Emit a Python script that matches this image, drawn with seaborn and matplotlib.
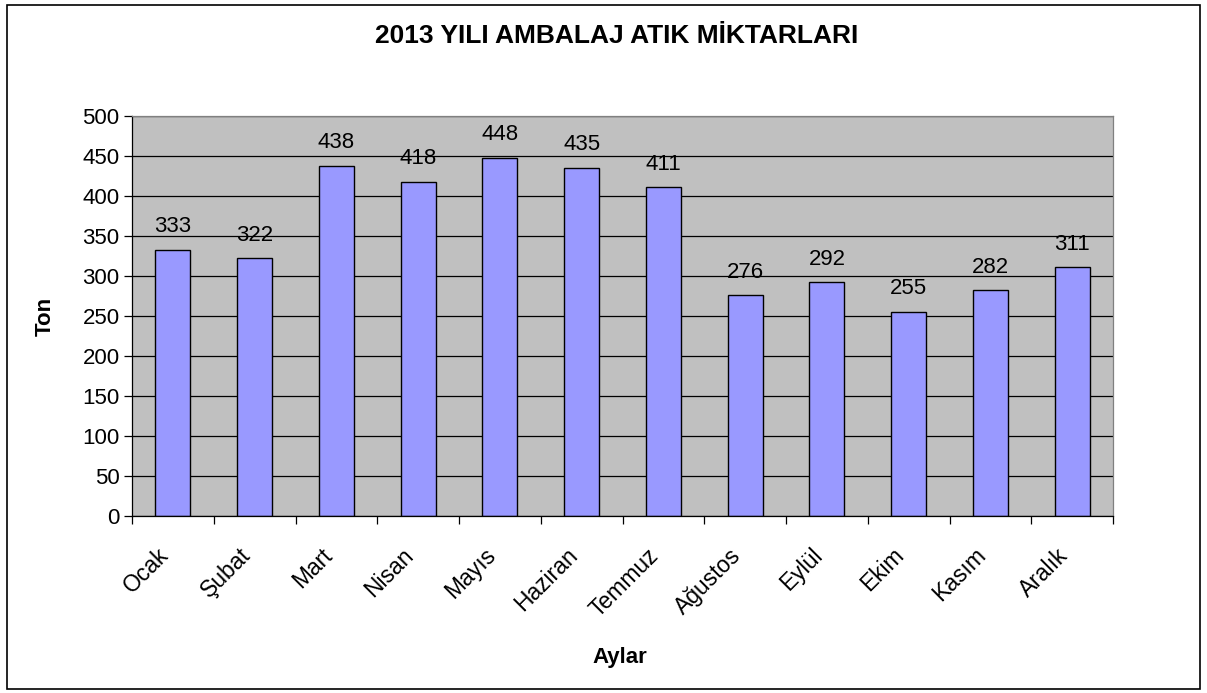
import matplotlib
matplotlib.use("Agg")
import matplotlib.pyplot as plt
import matplotlib.transforms as mtransforms
import seaborn as sns
import pandas as pd
import numpy as np
from matplotlib.patches import Rectangle

months = ["Ocak", "Şubat", "Mart", "Nisan", "Mayıs", "Haziran", "Temmuz",
          "Ağustos", "Eylül", "Ekim", "Kasım", "Aralık"]
values = [333, 322, 438, 418, 448, 435, 411, 276, 292, 255, 282, 311]
yticks = [0, 50, 100, 150, 200, 250, 300, 350, 400, 450, 500]

sns.set_theme(style="white")
plt.rcParams['font.family'] = ['Liberation Sans', 'DejaVu Sans']
plt.rcParams['text.color'] = 'black'
plt.rcParams['axes.labelcolor'] = 'black'
plt.rcParams['xtick.color'] = 'black'
plt.rcParams['ytick.color'] = 'black'

df = pd.DataFrame({"Ay": months, "Ton": values})

fig = plt.figure(figsize=(12.07, 6.93), dpi=100)
fig.patches.append(Rectangle((7/1207, 1-689/693), (1200-7)/1207, (689-5)/693,
                             transform=fig.transFigure, fill=False,
                             edgecolor="black", linewidth=1.2))
ax = fig.add_axes([132/1207, 1-516/693, 981/1207, 400/693])
ax.set_facecolor("#C0C0C0")

sns.barplot(data=df, x="Ay", y="Ton", ax=ax, color="#9999FF",
            width=0.43, edgecolor="black", linewidth=1.0, saturation=1)

ax.set_ylim(0, 500)
ax.set_xlim(-0.5, len(months) - 0.5)
ax.set_yticks(yticks)
ax.set_yticklabels([str(t) for t in yticks], fontsize=16)
ax.yaxis.grid(True, color="black", linewidth=0.9)
ax.set_axisbelow(True)

ax.set_xticks(range(len(months)))
ax.set_xticklabels(months, rotation=45, ha="right", rotation_mode="anchor", fontsize=16.5)
ax.tick_params(axis="x", which="major", length=0, pad=20)
offset = mtransforms.ScaledTranslation(-16/100, 0, fig.dpi_scale_trans)
for lbl in ax.get_xticklabels():
    lbl.set_transform(lbl.get_transform() + offset)
ax.set_xticks(np.arange(-0.5, len(months), 1.0), minor=True)
ax.tick_params(axis="x", which="minor", length=6, width=0.9, color="black", direction="out", bottom=True)
ax.tick_params(axis="y", length=6, width=0.9, color="black", direction="out", left=True, pad=3)

for s in ["top", "right"]:
    ax.spines[s].set_visible(True)
    ax.spines[s].set_color("#808080")
    ax.spines[s].set_linewidth(0.9)
ax.spines["left"].set_color("black")
ax.spines["bottom"].set_color("black")
ax.spines["left"].set_linewidth(0.9)
ax.spines["bottom"].set_linewidth(0.9)

for cont in ax.containers:
    ax.bar_label(cont, labels=[str(v) for v in values], padding=9, fontsize=16)

ax.set_ylabel("Ton", fontsize=16, fontweight="bold", labelpad=19)
ax.set_xlabel("Aylar", fontsize=16, fontweight="bold", labelpad=18)
ax.xaxis.set_label_coords(620/1207, 1-668/693, transform=fig.transFigure)
ax.xaxis.label.set_va("bottom")
fig.text(617/1207, 1-36/693, "2013 YILI AMBALAJ ATIK MİKTARLARI", ha="center", va="center",
         fontsize=19, fontweight="bold")

fig.savefig("out.png", dpi=100)
